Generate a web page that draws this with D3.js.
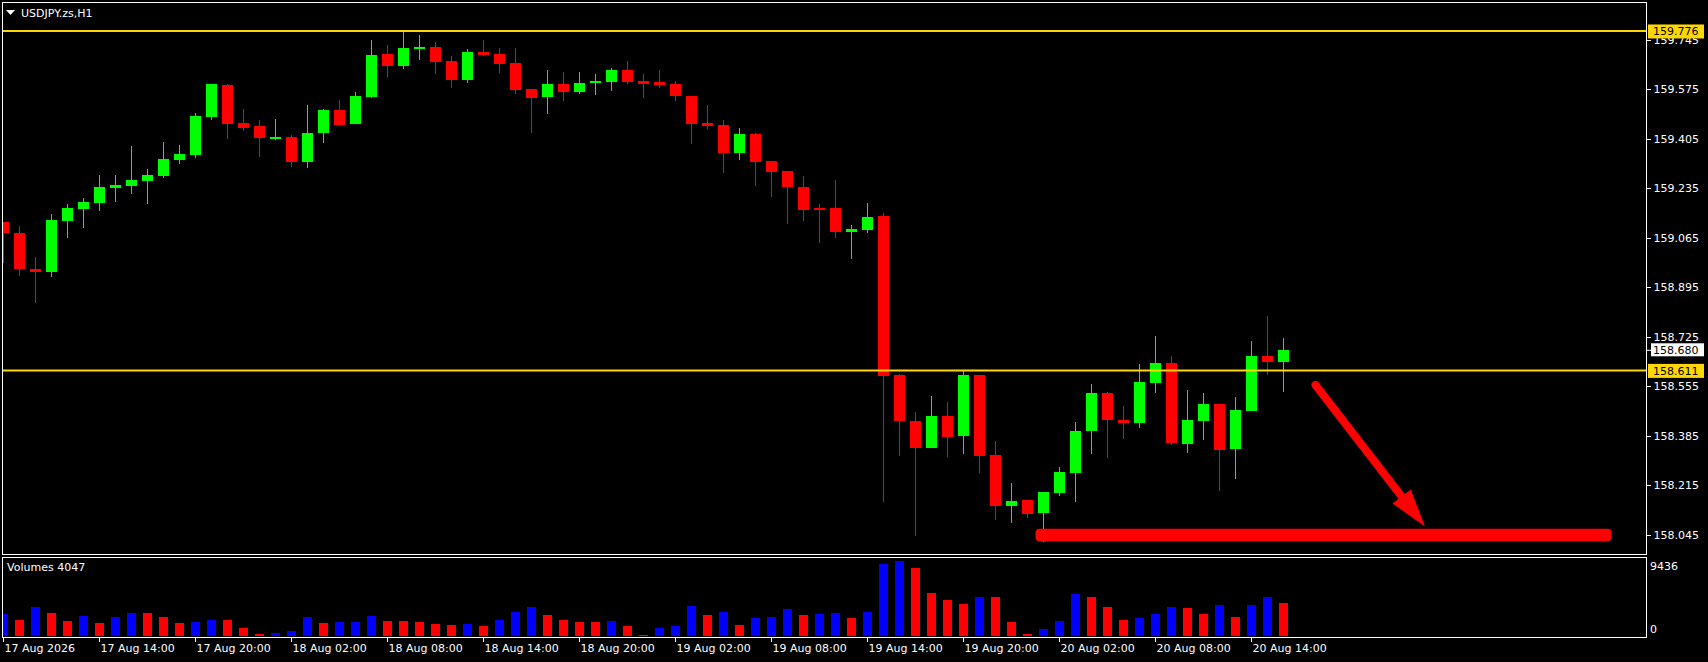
<!DOCTYPE html>
<html>
<head>
<meta charset="utf-8">
<script src="https://d3js.org/d3.v7.min.js"></script>
<style>
body { margin: 0; background: #000; }
svg { display: block; }
text { font-family: "DejaVu Sans", sans-serif; font-size: 11px; }
</style>
</head>
<body>
<div id="chart"></div>
<script>
// USDJPY H1 bars, one per hour from 17 Aug 08:00
var open = [159.120, 159.083, 158.960, 158.950, 159.125, 159.165, 159.187, 159.237, 159.245, 159.261,
  159.278, 159.333, 159.350, 159.481, 159.591, 159.460, 159.450, 159.405, 159.412, 159.326,
  159.426, 159.505, 159.457, 159.549, 159.697, 159.656, 159.714, 159.721, 159.673, 159.608,
  159.704, 159.697, 159.666, 159.577, 159.549, 159.594, 159.567, 159.597, 159.601, 159.642,
  159.604, 159.601, 159.594, 159.553, 159.460, 159.453, 159.357, 159.422, 159.330, 159.295,
  159.241, 159.168, 159.168, 159.086, 159.093, 159.141, 158.595, 158.438, 158.345, 158.455,
  158.386, 158.595, 158.321, 158.146, 158.166, 158.122, 158.190, 158.259, 158.403, 158.534,
  158.441, 158.431, 158.568, 158.637, 158.359, 158.438, 158.496, 158.341, 158.472, 158.661,
  158.640];
var high = [159.122, 159.107, 159.000, 159.148, 159.182, 159.203, 159.282, 159.282, 159.381, 159.302,
  159.395, 159.385, 159.494, 159.594, 159.594, 159.508, 159.470, 159.474, 159.419, 159.522,
  159.508, 159.539, 159.567, 159.745, 159.728, 159.773, 159.762, 159.738, 159.690, 159.714,
  159.745, 159.718, 159.718, 159.577, 159.642, 159.635, 159.635, 159.628, 159.649, 159.673,
  159.628, 159.642, 159.604, 159.553, 159.522, 159.470, 159.443, 159.426, 159.330, 159.295,
  159.278, 159.182, 159.265, 159.110, 159.186, 159.151, 158.599, 158.468, 158.523, 158.503,
  158.613, 158.595, 158.369, 158.225, 158.166, 158.194, 158.280, 158.434, 158.565, 158.537,
  158.489, 158.633, 158.729, 158.661, 158.544, 158.534, 158.496, 158.520, 158.712, 158.798,
  158.722];
var low = [158.980, 158.936, 158.842, 158.933, 159.066, 159.100, 159.158, 159.189, 159.217, 159.182,
  159.271, 159.319, 159.340, 159.470, 159.405, 159.433, 159.344, 159.402, 159.309, 159.306,
  159.392, 159.450, 159.457, 159.546, 159.618, 159.645, 159.676, 159.628, 159.580, 159.597,
  159.690, 159.632, 159.560, 159.426, 159.491, 159.536, 159.560, 159.556, 159.570, 159.594,
  159.546, 159.580, 159.536, 159.388, 159.440, 159.289, 159.333, 159.244, 159.206, 159.114,
  159.124, 159.048, 159.066, 158.994, 159.083, 158.160, 158.317, 158.043, 158.345, 158.314,
  158.324, 158.259, 158.098, 158.088, 158.105, 158.022, 158.180, 158.160, 158.324, 158.311,
  158.376, 158.414, 158.534, 158.355, 158.328, 158.372, 158.197, 158.238, 158.472, 158.595,
  158.537];
var close = [159.083, 158.960, 158.950, 159.127, 159.168, 159.189, 159.241, 159.247, 159.265, 159.282,
  159.337, 159.354, 159.484, 159.594, 159.457, 159.443, 159.409, 159.412, 159.326, 159.426,
  159.505, 159.453, 159.553, 159.694, 159.656, 159.718, 159.721, 159.670, 159.608, 159.704,
  159.694, 159.663, 159.573, 159.546, 159.594, 159.567, 159.597, 159.604, 159.642, 159.601,
  159.594, 159.591, 159.553, 159.457, 159.450, 159.357, 159.422, 159.326, 159.292, 159.241,
  159.162, 159.165, 159.086, 159.096, 159.138, 158.592, 158.438, 158.345, 158.455, 158.383,
  158.595, 158.317, 158.146, 158.163, 158.118, 158.194, 158.263, 158.403, 158.534, 158.441,
  158.431, 158.571, 158.637, 158.362, 158.441, 158.496, 158.338, 158.475, 158.661, 158.640,
  158.680];
var volume = [2715, 1985, 3531, 2837, 1863, 2472, 1619, 2313, 2840, 2810,
  2350, 1619, 1741, 1985, 1960, 1010, 280, 402, 645, 2350,
  1619, 1741, 1765, 2472, 1863, 1840, 1741, 1498, 1376, 1498,
  1254, 1985, 2959, 3567, 2593, 1985, 1741, 1720, 1863, 1254,
  158, 1010, 1254, 3689, 2593, 2959, 1376, 2228, 2350, 3324,
  2593, 2715, 2837, 2228, 2959, 8802, 9131, 8315, 5272, 4420,
  3933, 4785, 4760, 1741, 280, 889, 1863, 5150, 4785, 3567,
  1985, 2228, 2715, 3567, 3446, 2715, 3811, 2350, 3811, 4785,
  4047];
var volMax = 9436;

var timeTickBars = [0, 6, 12, 18, 24, 30, 36, 42, 48, 54, 60, 66, 72, 78];
var timeLabels = ["17 Aug 2026", "17 Aug 14:00", "17 Aug 20:00", "18 Aug 02:00", "18 Aug 08:00",
  "18 Aug 14:00", "18 Aug 20:00", "19 Aug 02:00", "19 Aug 08:00", "19 Aug 14:00",
  "19 Aug 20:00", "20 Aug 02:00", "20 Aug 08:00", "20 Aug 14:00"];
var priceTicks = [159.745, 159.575, 159.405, 159.235, 159.065, 158.895,
  158.725, 158.555, 158.385, 158.215, 158.045];
var levels = [159.776, 158.611];

// drawn objects, anchored as (bar index, price)
var supportBar = {from: 64.5, to: 100.5, price: 158.046};
var arrowFrom = [82, 158.561], arrowTo = [88.84, 158.075];

var width = 1708, height = 662;
var bull = "#00ff00", bear = "#ff0000", gold = "#ffd700";

var svg = d3.select("#chart")
.append("svg")
.attr("width", width)
.attr("height", height);

svg.append("rect")
.attr("width", width).attr("height", height).attr("fill", "#000");

var x = d3.scaleLinear().domain([0, 80]).range([3.5, 1283.5]);
var y = d3.scaleLinear().domain([158.045, 159.745]).range([535.3, 40]);
var yVol = d3.scaleLinear().domain([0, volMax]).range([636, 558.5]);

var defs = svg.append("defs");
defs.append("clipPath").attr("id", "clipMain")
.append("rect").attr("x", 3).attr("y", 3).attr("width", 1643).attr("height", 551);
defs.append("clipPath").attr("id", "clipVol")
.append("rect").attr("x", 3).attr("y", 558).attr("width", 1643).attr("height", 79);

// frames
svg.append("rect")
.attr("x", 2.5).attr("y", 2.5).attr("width", 1644).attr("height", 552)
.attr("fill", "none").attr("stroke", "#fff").attr("shape-rendering", "crispEdges");
svg.append("rect")
.attr("x", 2.5).attr("y", 557.5).attr("width", 1644).attr("height", 80)
.attr("fill", "none").attr("stroke", "#fff").attr("shape-rendering", "crispEdges");

// candles
var bars = d3.range(open.length);
var main = svg.append("g").attr("clip-path", "url(#clipMain)");

main.selectAll(".wick")
.data(bars)
.enter().append("line")
.attr("x1", d => x(d)).attr("x2", d => x(d))
.attr("y1", d => y(high[d])).attr("y2", d => y(low[d]))
.attr("stroke", d => close[d] >= open[d] ? bull : bear)
.attr("stroke-width", 1)
.attr("shape-rendering", "crispEdges");

main.selectAll(".body")
.data(bars)
.enter().append("rect")
.attr("x", d => x(d) - 5.5)
.attr("width", 11)
.attr("y", d => y(Math.max(open[d], close[d])))
.attr("height", d => Math.max(2, Math.abs(y(open[d]) - y(close[d]))))
.attr("fill", d => close[d] >= open[d] ? bull : bear)
.attr("shape-rendering", "crispEdges");

// horizontal levels
main.selectAll(".level")
.data(levels)
.enter().append("line")
.attr("x1", 3).attr("x2", 1646)
.attr("y1", d => y(d)).attr("y2", d => y(d))
.attr("stroke", gold).attr("stroke-width", 2);

// red drawings
main.append("rect")
.attr("x", x(supportBar.from))
.attr("width", x(supportBar.to) - x(supportBar.from))
.attr("y", y(supportBar.price) - 6.25)
.attr("height", 12.5)
.attr("rx", 4)
.attr("fill", bear);

var ax = x(arrowFrom[0]), ay = y(arrowFrom[1]);
var tx = x(arrowTo[0]), ty = y(arrowTo[1]);
var len = Math.hypot(tx - ax, ty - ay);
var ux = (tx - ax) / len, uy = (ty - ay) / len;
var headLen = 38, headHalf = 11.5;
var bx = tx - ux * headLen, by = ty - uy * headLen;

main.append("line")
.attr("x1", ax).attr("y1", ay)
.attr("x2", bx + ux * 2).attr("y2", by + uy * 2)
.attr("stroke", bear).attr("stroke-width", 8).attr("stroke-linecap", "round");
main.append("path")
.attr("d", "M" + tx + "," + ty +
  "L" + (bx - uy * headHalf) + "," + (by + ux * headHalf) +
  "L" + (bx + uy * headHalf) + "," + (by - ux * headHalf) + "Z")
.attr("fill", bear);

// volumes
var vol = svg.append("g").attr("clip-path", "url(#clipVol)");
vol.selectAll(".vol")
.data(bars)
.enter().append("rect")
.attr("x", d => x(d) - 4.5)
.attr("width", 9)
.attr("y", d => yVol(volume[d]))
.attr("height", d => yVol(0) - yVol(volume[d]))
.attr("fill", d => (d == 0 || volume[d] > volume[d - 1]) ? "#0000ff" : "#ff0000")
.attr("shape-rendering", "crispEdges");

// price axis
var yAxis = svg.append("g")
.attr("transform", "translate(1646.5,0)")
.call(d3.axisRight(y).tickValues(priceTicks).tickSize(4).tickPadding(3)
  .offset(0).tickFormat(d3.format(".3f")));
yAxis.select(".domain").remove();
yAxis.selectAll("line").attr("stroke", "#fff").attr("shape-rendering", "crispEdges");
yAxis.selectAll("text").attr("fill", "#fff").attr("font-size", "11px")
.attr("font-family", "DejaVu Sans");

// time axis
var xAxis = svg.append("g")
.attr("transform", "translate(0,637.5)")
.call(d3.axisBottom(x).tickValues(timeTickBars).tickSize(4).tickPadding(3)
  .offset(0).tickFormat((d, i) => timeLabels[i]));
xAxis.select(".domain").remove();
xAxis.selectAll("line").attr("stroke", "#fff").attr("shape-rendering", "crispEdges");
xAxis.selectAll("text").attr("fill", "#fff").attr("font-size", "11px")
.attr("font-family", "DejaVu Sans").attr("text-anchor", "start").attr("x", 1);

// level price tags
levels.forEach(function(p) {
  svg.append("rect")
  .attr("x", 1648).attr("y", y(p) - 6.5).attr("width", 56).attr("height", 14)
  .attr("fill", gold);
  svg.append("text")
  .attr("x", 1653).attr("y", y(p) + 4.5)
  .attr("fill", "#000")
  .text(d3.format(".3f")(p));
});

// current bid tag
var last = close[close.length - 1];
svg.append("line")
.attr("x1", 1647).attr("x2", 1651).attr("y1", y(last)).attr("y2", y(last))
.attr("stroke", "#fff");
svg.append("rect")
.attr("x", 1651).attr("y", y(last) - 7).attr("width", 53).attr("height", 13)
.attr("fill", "#fff");
svg.append("text")
.attr("x", 1653).attr("y", y(last) + 4)
.attr("fill", "#000")
.text(d3.format(".3f")(last));

// titles
svg.append("path")
.attr("d", "M6,10L15,10L10.5,15Z")
.attr("fill", "#fff");
svg.append("text")
.attr("x", 21).attr("y", 16.5)
.attr("fill", "#fff")
.text("USDJPY.zs,H1");

svg.append("text")
.attr("x", 7).attr("y", 571)
.attr("fill", "#fff")
.text("Volumes " + volume[volume.length - 1]);

svg.append("text")
.attr("x", 1650).attr("y", 569.5)
.attr("fill", "#fff")
.text(volMax);
svg.append("text")
.attr("x", 1650).attr("y", 633)
.attr("fill", "#fff")
.text(0);
</script>
</body>
</html>
